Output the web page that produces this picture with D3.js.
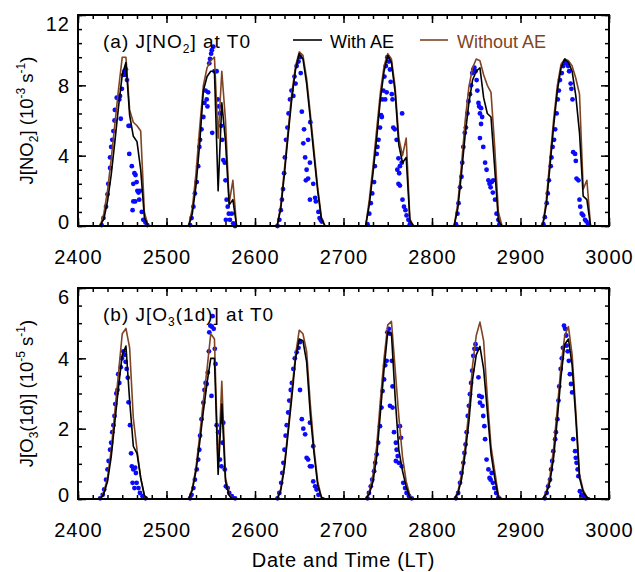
<!DOCTYPE html>
<html>
<head>
<meta charset="utf-8">
<script src="https://cdn.jsdelivr.net/npm/d3@7"></script>
<style>
body { margin: 0; background: #fff; }
text { font-family: "Liberation Sans", Arial, Helvetica, sans-serif; }
</style>
</head>
<body>
<script>
// days (DOY*100 on the x axis) and the model hours of each day
var days = [24, 25, 26, 27, 28, 29];
var hours = [6, 7, 8, 9, 10, 11, 12, 13, 14, 15, 16, 17, 18, 19];
var xTicks = [2400, 2500, 2600, 2700, 2800, 2900, 3000];
var no2Ticks = [0, 4, 8, 12];
var o3Ticks = [0, 2, 4, 6];

// J[NO2] model, one row per day, one value per hour
var no2WithAE = [
  [0, 0.4, 1.4, 2.9, 4.8, 6.8, 8.6, 9.3, 6.3, 5.1, 4.8, 3.2, 0.5, 0],
  [0, 0.7, 2.3, 4.7, 7.7, 8.5, 8.8, 8.8, 2.0, 7.0, 4.8, 1.2, 1.5, 0],
  [0, 1.0, 3.0, 5.2, 7.3, 8.9, 9.8, 9.5, 8.1, 6.1, 4.0, 2.0, 0.4, 0],
  [0, 1.2, 3.0, 5.0, 7.2, 8.8, 9.7, 9.3, 7.6, 4.6, 3.6, 3.9, 0.3, 0],
  [0, 1.0, 3.0, 5.2, 7.0, 8.3, 8.8, 9.0, 7.3, 6.4, 6.2, 3.3, 0.3, 0],
  [0, 1.2, 3.4, 5.7, 7.7, 9.0, 9.5, 9.3, 8.8, 7.4, 5.3, 1.7, 1.5, 0]
];
var no2WithoutAE = [
  [0, 0.7, 2.0, 3.8, 5.8, 7.8, 9.6, 9.6, 6.6, 5.9, 5.7, 5.4, 0.8, 0],
  [0, 1.0, 3.0, 5.6, 8.0, 9.0, 9.4, 9.6, 5.0, 8.8, 6.0, 1.3, 2.6, 0],
  [0, 1.2, 3.3, 5.5, 7.6, 9.1, 9.9, 9.7, 8.4, 6.4, 4.3, 2.2, 0.5, 0],
  [0, 1.5, 3.4, 5.5, 7.6, 9.1, 9.8, 9.5, 7.9, 5.0, 4.0, 5.0, 0.4, 0],
  [0, 1.3, 3.5, 6.0, 7.9, 9.0, 9.5, 9.4, 8.6, 8.0, 7.6, 4.5, 0.8, 0],
  [0, 1.5, 3.8, 6.1, 8.0, 9.2, 9.5, 9.4, 9.1, 8.4, 7.5, 2.1, 2.6, 0]
];
// J[NO2] observations, [hour, value] per day
var no2Obs = [
  [[6.4,0.05],[6.9,0.45],[7.6,1.1],[8.0,1.8],[8.2,2.4],[8.7,3.3],[8.7,3.9],[9.0,4.5],[9.3,4.9],[9.6,5.4],[9.9,6.0],[10.0,6.6],[10.5,7.3],[11.2,7.2],[11.4,7.4],[11.6,6.1],[11.9,7.8],[12.3,8.6],[12.6,8.8],[12.8,8.6],[13.0,8.9],[13.3,8.3],[13.7,5.7],[14.0,5.7],[13.9,4.1],[14.6,3.4],[15.0,2.4],[15.3,3.0],[15.6,2.9],[15.9,2.5],[16.1,2.0],[16.4,1.9],[16.6,1.5],[15.0,1.4],[15.5,1.4],[14.8,0.9],[16.8,2.0],[17.3,0.8],[17.7,0.35],[18.3,0.2],[18.8,0.05]],
  [[6.4,0.05],[6.8,0.45],[7.3,1.1],[7.7,1.85],[8.2,2.5],[8.6,3.4],[8.9,4.5],[9.1,4.9],[9.5,5.5],[10.0,6.2],[10.3,7.0],[10.6,7.7],[10.9,7.2],[11.1,6.8],[11.3,7.6],[11.6,9.25],[11.8,9.5],[12.1,9.8],[12.3,10.0],[12.7,10.2],[12.4,5.3],[13.0,8.8],[13.6,8.8],[13.9,7.2],[14.2,6.8],[14.5,6.4],[14.8,5.7],[15.1,4.9],[15.4,3.75],[15.8,3.6],[16.0,2.6],[16.3,1.5],[16.6,1.1],[16.9,0.7],[16.1,0.35],[17.2,0.35],[17.7,0.7],[18.1,0.15],[18.6,0]],
  [[6.1,0],[6.6,0.35],[7.0,0.9],[7.3,1.5],[7.6,2.1],[7.9,3.0],[8.1,3.9],[8.4,4.9],[8.8,5.6],[9.1,6.4],[9.5,7.2],[9.9,7.7],[10.4,7.4],[10.7,8.5],[11.0,8.1],[11.3,9.1],[11.8,9.35],[12.2,9.6],[12.4,8.7],[12.7,6.5],[13.1,4.7],[13.3,5.5],[13.6,3.9],[13.8,2.6],[14.0,3.2],[14.4,4.9],[14.4,2.7],[14.9,3.6],[15.0,5.9],[15.8,2.4],[14.9,1.5],[16.3,1.6],[16.5,1.4],[17.2,0.8],[17.5,0.45],[17.8,0.35],[18.1,0.25]],
  [[6.5,0.1],[7.0,0.7],[7.4,1.3],[7.8,1.85],[8.3,2.5],[8.5,3.4],[9.0,4.1],[9.2,4.5],[9.5,4.9],[9.9,5.6],[10.2,6.3],[10.4,6.2],[10.5,7.2],[10.8,7.7],[11.1,8.5],[11.3,7.2],[11.5,9.1],[11.7,7.6],[11.9,9.6],[12.3,9.35],[12.6,8.9],[12.8,8.2],[13.1,7.5],[13.3,7.2],[13.5,5.6],[13.9,5.5],[14.4,4.9],[14.6,3.2],[14.9,3.85],[14.9,2.4],[15.1,3.0],[15.3,3.4],[15.3,2.3],[15.8,3.6],[15.9,6.4],[16.0,1.5],[16.4,1.1],[16.8,0.9],[17.1,0.6],[17.6,0.35],[18.0,0.1]],
  [[6.5,0.1],[6.9,0.7],[7.2,1.3],[7.6,2.2],[8.0,2.8],[8.2,3.6],[8.5,4.5],[8.9,5.3],[9.2,5.6],[9.6,6.4],[9.9,7.1],[10.3,7.5],[10.6,8.0],[10.9,8.7],[11.2,8.9],[11.5,9.0],[11.8,8.8],[12.1,8.3],[12.3,7.7],[12.6,7.0],[12.8,6.8],[13.0,6.4],[13.3,6.7],[13.6,6.2],[13.3,5.8],[13.0,5.0],[13.9,4.5],[14.4,3.6],[14.8,3.2],[15.3,2.6],[15.6,2.4],[15.9,2.2],[16.2,2.5],[16.5,1.9],[16.6,2.6],[17.1,1.5],[17.5,0.7],[18.0,0.35],[18.3,0.1]],
  [[6.2,0.1],[6.6,0.5],[7.1,1.3],[7.4,1.85],[7.7,2.6],[8.2,3.4],[8.4,3.9],[8.7,4.5],[9.1,4.9],[9.4,5.5],[9.8,6.4],[10.1,7.2],[10.4,7.7],[10.7,8.3],[11.2,8.7],[11.6,9.1],[12.1,9.35],[12.5,9.25],[12.9,9.1],[13.2,8.8],[13.6,8.1],[13.8,7.8],[14.1,7.2],[14.3,4.2],[14.8,4.1],[15.0,3.7],[15.2,2.7],[15.7,2.6],[16.0,1.5],[16.2,1.1],[16.6,0.7],[17.0,0.6],[17.5,0.35],[17.9,0.25],[18.4,0.1]]
];

// J[O3(1d)] model
var o3WithAE = [
  [0, 0.15, 0.5, 1.2, 2.2, 3.2, 4.1, 4.35, 2.8, 1.5, 1.3, 0.6, 0.1, 0],
  [0, 0.25, 0.8, 1.6, 2.5, 3.3, 4.0, 4.0, 0.7, 2.7, 0.5, 0.1, 0, 0],
  [0, 0.25, 0.9, 1.9, 2.9, 4.0, 4.55, 4.5, 3.9, 2.4, 1.3, 0.4, 0.05, 0],
  [0, 0.15, 0.5, 1.2, 2.45, 3.7, 4.75, 4.7, 2.9, 1.4, 0.8, 0.35, 0.05, 0],
  [0, 0.15, 0.55, 1.3, 2.2, 3.4, 4.1, 4.34, 3.7, 2.5, 1.3, 0.6, 0.05, 0],
  [0, 0.15, 0.5, 1.2, 2.3, 3.5, 4.4, 4.55, 3.8, 2.3, 0.6, 0.2, 0.05, 0]
];
var o3WithoutAE = [
  [0, 0.2, 0.6, 1.4, 2.5, 3.6, 4.7, 4.85, 4.3, 2.3, 1.4, 0.6, 0.1, 0],
  [0, 0.3, 0.9, 1.8, 2.8, 3.7, 4.7, 4.55, 0.9, 3.35, 0.6, 0.15, 0, 0],
  [0, 0.3, 1.0, 2.0, 3.1, 4.1, 4.8, 4.7, 4.2, 2.7, 1.45, 0.5, 0.05, 0],
  [0, 0.2, 0.7, 1.5, 2.8, 4.0, 4.95, 5.05, 3.7, 2.35, 1.2, 0.5, 0.1, 0],
  [0, 0.2, 0.7, 1.5, 2.5, 3.8, 4.65, 5.03, 4.5, 2.9, 1.5, 0.8, 0.1, 0],
  [0, 0.2, 0.65, 1.45, 2.6, 3.8, 4.65, 4.9, 4.1, 2.5, 0.7, 0.25, 0.05, 0]
];
// J[O3(1d)] observations
var o3Obs = [
  [[6.0,0.02],[6.7,0.12],[7.1,0.27],[7.6,0.55],[8.0,0.84],[8.3,1.08],[8.7,1.4],[9.0,1.6],[9.3,1.9],[9.6,2.1],[9.9,2.36],[10.1,2.7],[10.4,3.0],[10.7,3.1],[10.9,3.55],[11.2,3.3],[11.6,3.75],[11.9,4.0],[12.3,4.2],[12.7,4.1],[12.9,3.9],[13.2,3.7],[13.5,3.45],[13.7,2.75],[14.1,2.1],[14.4,1.3],[14.6,0.93],[15.0,0.84],[15.5,0.89],[15.7,0.74],[14.8,0.46],[15.3,0.31],[15.9,0.46],[16.4,0.31],[16.8,0.17],[17.5,0.08],[18.3,0.02]],
  [[6.4,0.02],[6.8,0.12],[7.3,0.31],[7.7,0.55],[8.2,0.84],[8.6,1.12],[8.9,1.4],[9.1,1.8],[9.5,2.27],[10.0,2.74],[10.3,3.1],[10.6,3.3],[10.9,3.27],[11.2,3.6],[11.5,4.2],[11.6,4.74],[11.9,4.93],[12.3,4.9],[12.5,5.2],[12.8,4.84],[13.1,4.27],[13.3,3.84],[12.2,2.93],[13.6,2.1],[14.0,1.9],[14.5,1.12],[14.9,0.93],[15.4,2.17],[15.2,1.6],[15.8,0.84],[16.1,0.36],[16.6,0.31],[17.0,0.17],[17.7,0.08],[18.6,0.02]],
  [[6.1,0.02],[6.6,0.17],[7.1,0.46],[7.4,0.74],[7.7,1.03],[8.0,1.4],[8.3,1.8],[8.6,2.1],[9.0,2.46],[9.3,2.8],[9.7,3.1],[10.0,3.3],[10.4,3.7],[10.8,4.0],[11.3,4.17],[11.8,4.3],[12.2,4.46],[12.2,3.1],[12.7,2.27],[13.1,2.0],[13.6,1.84],[14.0,1.17],[14.4,1.12],[14.9,2.17],[14.9,0.93],[15.4,0.93],[15.8,1.5],[15.8,0.5],[16.3,0.36],[16.7,0.27],[17.2,0.12]],
  [[6.5,0.02],[6.9,0.17],[7.4,0.36],[7.8,0.55],[8.3,0.79],[8.6,1.03],[9.0,1.27],[9.4,1.6],[9.9,2.07],[10.3,2.6],[10.6,3.07],[11.0,3.4],[11.3,3.8],[11.7,3.93],[11.9,4.74],[12.3,4.84],[12.6,4.7],[13.1,3.93],[13.3,3.2],[12.6,2.65],[13.3,2.6],[13.7,1.9],[14.2,1.6],[14.4,1.4],[14.7,1.22],[15.0,1.03],[15.3,2.07],[15.6,1.74],[14.2,1.08],[15.8,0.93],[16.2,0.46],[16.7,0.31],[17.1,0.17],[17.8,0.08],[18.5,0.02]],
  [[6.5,0.02],[7.1,0.17],[7.6,0.46],[8.0,0.74],[8.5,1.03],[8.8,1.31],[9.1,1.55],[9.4,1.9],[9.7,2.36],[10.0,2.65],[10.3,2.98],[10.6,3.3],[10.9,3.65],[11.2,4.07],[11.5,4.27],[11.8,4.4],[12.1,4.27],[12.6,3.46],[12.8,2.93],[13.0,2.74],[13.5,2.9],[13.7,2.65],[13.9,2.36],[14.2,2.07],[14.4,1.7],[14.8,1.12],[15.3,0.84],[15.6,0.6],[15.9,0.55],[16.2,0.74],[16.5,0.46],[16.9,0.31],[17.4,0.17],[18.0,0.04]],
  [[6.6,0.02],[7.1,0.17],[7.5,0.36],[8.0,0.55],[8.3,0.84],[8.6,1.08],[8.9,1.36],[9.4,1.7],[9.6,1.9],[10.0,2.27],[10.3,2.8],[10.5,3.2],[10.9,3.7],[11.2,4.0],[11.5,4.3],[11.8,4.93],[12.1,4.84],[12.4,4.65],[12.5,4.36],[12.8,4.2],[13.1,3.93],[13.4,3.55],[13.7,3.27],[14.0,3.03],[14.3,1.7],[14.8,1.36],[15.0,1.17],[15.2,1.03],[15.5,0.84],[15.7,0.65],[16.1,0.22],[16.6,0.12],[17.0,0.08],[17.7,0.02]]
];

var brown = "#7f4424";
var blue = "#0a0aff";
var W = 635, H = 572;
var L = 78, R = 609;

function tx(day, h) { return day * 100 + h * 100 / 24; }

var svg = d3.select("body").append("svg")
  .attr("width", W)
  .attr("height", H);

var x = d3.scaleLinear().domain([2400, 3000]).range([L, R]);
var xMinor = d3.range(2400, 3000.1, 100 / 6);

function modelPoints(rows) {
  var pts = [];
  rows.forEach(function(row, i) {
    row.forEach(function(v, j) { pts.push([tx(days[i], hours[j]), v]); });
  });
  return pts;
}

function panel(p) {
  var y = d3.scaleLinear().domain([0, p.ymax]).range([p.bottom, p.top]);
  var g = svg.append("g");

  // observations
  p.obs.forEach(function(dayObs, i) {
    g.selectAll(null).data(dayObs).enter().append("circle")
      .attr("cx", function(d) { return x(tx(days[i], d[0])); })
      .attr("cy", function(d) { return y(d[1]); })
      .attr("r", 2.4)
      .style("fill", blue);
  });

  var line = d3.line()
    .x(function(d) { return x(d[0]); })
    .y(function(d) { return y(d[1]); });

  g.append("path").attr("d", line(modelPoints(p.without)))
    .style("fill", "none").style("stroke", brown).style("stroke-width", 1.6)
    .style("stroke-linejoin", "round");
  g.append("path").attr("d", line(modelPoints(p.withAE)))
    .style("fill", "none").style("stroke", "#000").style("stroke-width", 1.6)
    .style("stroke-linejoin", "round");

  // axes, ticks inward on all four sides
  var yMinor = d3.range(0, p.ymax + 0.001, p.minor);
  function axis(gen, tr) {
    var a = g.append("g").attr("transform", tr).call(gen);
    a.select(".domain").remove();
    a.selectAll("line").style("stroke-width", 1.5);
    return a;
  }
  var bx = axis(d3.axisBottom(x).tickValues(xTicks).tickSize(-8).tickPadding(24).tickFormat(d3.format("d")),
    "translate(0," + p.bottom + ")");
  bx.selectAll("text").style("font-size", "20px").style("letter-spacing", "1px").style("fill", "#000");
  axis(d3.axisBottom(x).tickValues(xMinor).tickSize(-4).tickFormat(""), "translate(0," + p.bottom + ")");
  axis(d3.axisTop(x).tickValues(xTicks).tickSize(-8).tickFormat(""), "translate(0," + p.top + ")");
  axis(d3.axisTop(x).tickValues(xMinor).tickSize(-4).tickFormat(""), "translate(0," + p.top + ")");

  var ly = axis(d3.axisLeft(y).tickValues(p.ticks).tickSize(-8).tickPadding(8).tickFormat(d3.format("d")),
    "translate(" + L + ",0)");
  ly.selectAll("text")
    .style("font-size", "20px").style("letter-spacing", "1px").style("fill", "#000")
    .attr("dy", "0.35em")
    .attr("y", function(d) {
      var yy = y(d);
      return Math.max(p.top + 8.5, Math.min(p.bottom - 5, yy)) - yy;
    });
  axis(d3.axisLeft(y).tickValues(yMinor).tickSize(-4).tickFormat(""), "translate(" + L + ",0)");
  axis(d3.axisRight(y).tickValues(p.ticks).tickSize(-8).tickFormat(""), "translate(" + R + ",0)");
  axis(d3.axisRight(y).tickValues(yMinor).tickSize(-4).tickFormat(""), "translate(" + R + ",0)");

  // frame
  g.append("rect")
    .attr("x", L).attr("y", p.top)
    .attr("width", R - L).attr("height", p.bottom - p.top)
    .style("fill", "none").style("stroke", "#000").style("stroke-width", 2);

  // panel title
  var t = g.append("text").attr("x", 103).attr("y", p.top + 33)
    .style("font-size", "19px").style("letter-spacing", "1px");
  t.append("tspan").text(p.title[0]);
  t.append("tspan").attr("dy", 5).style("font-size", "12px").text(p.title[1]);
  t.append("tspan").attr("dy", -5).text(p.title[2]);

  // y axis title
  var yl = g.append("text")
    .attr("transform", "translate(33," + ((p.top + p.bottom) / 2) + ") rotate(-90)")
    .attr("text-anchor", "middle")
    .style("font-size", "18.5px");
  yl.append("tspan").text(p.ylabel[0]);
  yl.append("tspan").attr("dy", 5).style("font-size", "12px").text(p.ylabel[1]);
  yl.append("tspan").attr("dy", -5).text(p.ylabel[2]);
  yl.append("tspan").attr("dy", -8).style("font-size", "12px").text("-" + p.exp);
  yl.append("tspan").attr("dy", 8).text(" s");
  yl.append("tspan").attr("dy", -8).style("font-size", "12px").text("-1");
  yl.append("tspan").attr("dy", 8).text(")");
}

panel({
  top: 15, bottom: 226, ymax: 12, ticks: no2Ticks, minor: 0.8,
  withAE: no2WithAE, without: no2WithoutAE, obs: no2Obs,
  title: ["(a) J[NO", "2", "] at T0"],
  ylabel: ["J[NO", "2", "] (10"], exp: "3"
});

panel({
  top: 288, bottom: 499, ymax: 6, ticks: o3Ticks, minor: 0.5,
  withAE: o3WithAE, without: o3WithoutAE, obs: o3Obs,
  title: ["(b) J[O", "3", "(1d)] at T0"],
  ylabel: ["J[O", "3", "(1d)] (10"], exp: "5"
});

// legend
var leg = svg.append("g");
leg.append("line").attr("x1", 293).attr("x2", 322).attr("y1", 40).attr("y2", 40)
  .style("stroke", "#000").style("stroke-width", 1.6);
leg.append("text").attr("x", 330).attr("y", 47.5).style("font-size", "18px").text("With AE");
leg.append("line").attr("x1", 420).attr("x2", 448).attr("y1", 40).attr("y2", 40)
  .style("stroke", brown).style("stroke-width", 1.6);
leg.append("text").attr("x", 457).attr("y", 47.5).style("font-size", "18px")
  .style("fill", brown).text("Without AE");

// x axis title
svg.append("text")
  .attr("x", (L + R) / 2).attr("y", 567)
  .attr("text-anchor", "middle")
  .style("font-size", "20px").style("letter-spacing", "0.7px")
  .text("Date and Time (LT)");
</script>
</body>
</html>
